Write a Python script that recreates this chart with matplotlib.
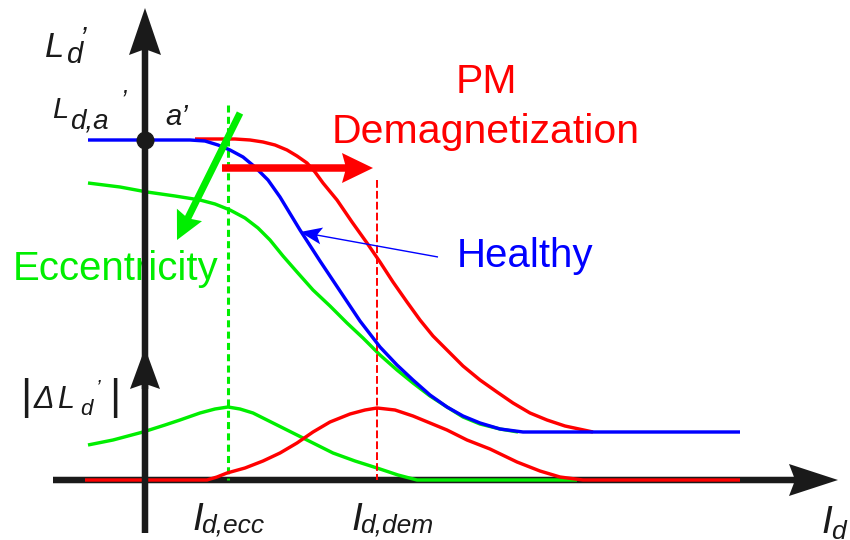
import matplotlib.pyplot as plt
from matplotlib.patches import FancyArrow

# Curves traced in figure pixels: x to the right, y downwards from the top edge.
# Upper panel: incremental inductance L_d' against I_d
healthy_x = [88, 190, 205, 218, 230, 243, 255, 268, 280, 300, 320, 340, 360, 380,
             397, 413, 430, 447, 463, 480, 500, 523, 740]
healthy_y = [140, 140, 141, 145, 150, 157, 167, 180, 197, 230, 261, 291, 321, 347,
             365, 380, 395, 407, 416, 423, 429, 432, 432]

demag_x = [195, 215, 235, 250, 263, 275, 287, 297, 307, 315, 323, 337, 352, 367,
           380, 393, 407, 420, 433, 447, 463, 480, 497, 513, 530, 547, 565, 593]
demag_y = [139, 139, 139, 140, 142, 145, 150, 156, 163, 172, 183, 200, 222, 243,
           262, 282, 302, 320, 336, 350, 366, 380, 392, 403, 413, 420, 426, 432]

ecc_x = [88, 120, 147, 175, 200, 215, 230, 245, 258, 270, 283, 297, 313, 330,
         347, 363, 380, 397, 413, 430, 447, 463, 480, 500, 518]
ecc_y = [183, 187, 192, 196, 200, 204, 210, 218, 228, 240, 256, 272, 290, 306,
         323, 338, 355, 370, 383, 396, 407, 417, 424, 429, 432]

# Lower panel: deviation |dL_d'| from the healthy curve
ecc_delta_x = [88, 113, 143, 165, 180, 200, 215, 228, 240, 253, 273, 293, 313, 333,
               355, 377, 398, 417, 577]
ecc_delta_y = [445, 440, 432, 425, 420, 413, 409, 407, 409, 413, 423, 433, 443, 453,
               461, 468, 475, 480, 480]

demag_delta_x = [85, 207, 217, 227, 245, 263, 280, 297, 313, 330, 350, 365, 377, 395,
                 413, 430, 447, 467, 490, 517, 540, 560, 583, 740]
demag_delta_y = [480, 480, 477, 473, 468, 461, 453, 443, 432, 422, 414, 410, 408, 410,
                 416, 423, 430, 440, 449, 462, 471, 477, 480, 480]

# characteristic currents and where their markers start
i_d_ecc, i_d_ecc_top = 228, 105
i_d_dem, i_d_dem_top = 377, 180

AXIS_X, AXIS_Y = 145, 480

RED = "#ff0000"
GREEN = "#00ee00"
BLUE = "#0000ff"
INK = "#1a1a1a"
PX = 72 / 100  # points per pixel at dpi 100

plt.rcParams["font.family"] = ["Liberation Sans", "DejaVu Sans"]

fig = plt.figure(figsize=(8.5, 5.4), dpi=100)
ax = fig.add_axes([0, 0, 1, 1])
ax.set_xlim(0, 850)
ax.set_ylim(540, 0)
ax.axis("off")


def arrow(x0, y0, x1, y1, width, head_w, head_l, color, z, overhang=0.1):
    ax.add_patch(FancyArrow(x0, y0, x1 - x0, y1 - y0, width=width,
                            head_width=head_w, head_length=head_l,
                            length_includes_head=True, overhang=overhang,
                            color=color, lw=0, zorder=z))


def put(x, y, s, size, color=INK, style="italic", ha="left", z=5):
    ax.text(x, y, s, fontsize=size, color=color, fontstyle=style,
            ha=ha, va="baseline", zorder=z)


lw = 3.4 * PX

# axes
arrow(53, AXIS_Y, 838, AXIS_Y, 6.5, 32, 49, INK, 1)
arrow(AXIS_X, 533, AXIS_X, 8, 6.5, 32, 47, INK, 6)
arrow(AXIS_X, 389, AXIS_X, 348, 6.5, 30, 41, INK, 6)

# markers at the characteristic currents
ax.plot([i_d_ecc, i_d_ecc], [i_d_ecc_top, AXIS_Y], color=GREEN, lw=2.2,
        dashes=(2.3, 1.4), zorder=2.5)
ax.plot([i_d_dem, i_d_dem], [i_d_dem_top, AXIS_Y], color=RED, lw=1.4,
        dashes=(4, 1.6), zorder=2.5)

# upper panel curves
ax.plot(ecc_x, ecc_y, color=GREEN, lw=lw, zorder=2, solid_capstyle="butt")
ax.plot(demag_x, demag_y, color=RED, lw=lw, zorder=3, solid_capstyle="butt")
ax.plot(healthy_x, healthy_y, color=BLUE, lw=lw, zorder=4, solid_capstyle="butt")
ax.plot([AXIS_X], [healthy_y[0]], "o", color=INK, ms=12, zorder=6.5)

# lower panel curves
ax.plot(ecc_delta_x, ecc_delta_y, color=GREEN, lw=lw, zorder=2, solid_capstyle="butt")
ax.plot(demag_delta_x, demag_delta_y, color=RED, lw=lw, zorder=3, solid_capstyle="butt")

# fault shift arrows
arrow(222, 168, 373, 168, 7.5, 30, 31, RED, 7)
arrow(240, 113, 177, 240, 7, 28, 28, GREEN, 7)
arrow(438, 257, 300, 232, 1.4, 17, 22, BLUE, 3.5, overhang=0.2)

# labels
put(486, 93, "PM", 29.5, RED, "normal", "center")
put(486, 143, "Demagnetization", 29.5, RED, "normal", "center")
put(457, 267, "Healthy", 29, BLUE, "normal")
put(13, 280, "Eccentricity", 29, GREEN, "normal")

put(45, 57, "L", 25)
put(66, 63, "d", 21)
put(79, 46, "\u2019", 21)

put(52, 118, "L", 21)
put(70, 128, "d,a", 20)
put(121, 108, "\u2019", 18)

put(165, 125, "a\u2019", 21)

# |dL_d'| label, letters spread out as in the original artwork
put(20, 409, "|", 31, style="normal")
put(34, 408, "\u0394", 22)
put(57, 408, "L", 22)
put(80, 415, "d", 16)
put(95, 394, "\u2019", 15)
put(109, 409, "|", 31, style="normal")

put(192, 530, "I", 28)
put(201, 533, "d,ecc", 19)
put(351, 530, "I", 28)
put(360, 533, "d,dem", 19)
put(821, 533, "I", 28)
put(831, 539, "d", 19)

fig.savefig("out.png", dpi=100)
